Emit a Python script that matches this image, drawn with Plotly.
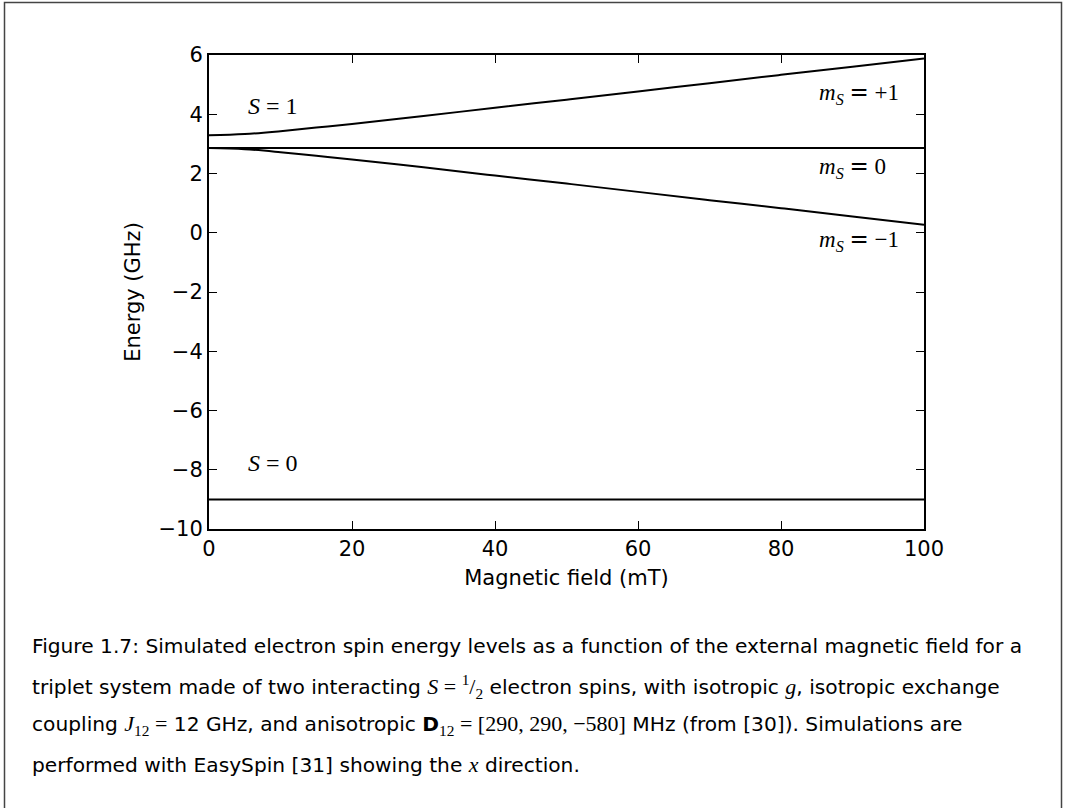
import plotly.graph_objects as go

# Data
field_mT = [0, 5, 10, 15, 20, 30, 40, 50, 60, 70, 80, 90, 100]
e_plus1 = [3.29, 3.33, 3.43, 3.55, 3.67, 3.94, 4.22, 4.49, 4.77, 5.05, 5.33, 5.60, 5.88]
e_zero = [2.86, 2.86, 2.86, 2.86, 2.86, 2.86, 2.86, 2.86, 2.86, 2.86, 2.86, 2.86, 2.86]
e_minus1 = [2.86, 2.82, 2.72, 2.60, 2.47, 2.21, 1.93, 1.66, 1.38, 1.10, 0.83, 0.55, 0.27]
e_singlet = [-9.0, -9.0, -9.0, -9.0, -9.0, -9.0, -9.0, -9.0, -9.0, -9.0, -9.0, -9.0, -9.0]

x_ticks = [0, 20, 40, 60, 80, 100]
y_ticks = [-10, -8, -6, -4, -2, 0, 2, 4, 6]

W, H = 1066, 808
ML, MR, MT, MB = 209, 142, 55, 279
PW, PH = W - ML - MR, H - MT - MB

def px2paper(px, py):
    return (px - ML) / PW, (H - MB - py) / PH

SERIF = "Liberation Serif"
SANS = "DejaVu Sans"
CAP = "DejaVu Sans"

def m(t):
    return f'<span style="font-family:{SERIF}">{t}</span>'

def cm(t):
    return f'<span style="font-family:{SERIF};font-size:22px">{t}</span>'

fig = go.Figure()
for ys in [e_plus1, e_zero, e_minus1, e_singlet]:
    fig.add_trace(go.Scatter(x=field_mT, y=ys, mode="lines",
                             line=dict(color="black", width=2, shape="spline"),
                             showlegend=False, hoverinfo="skip"))

ann = []
# level labels
ann.append(dict(x=5.2, y=4.27, xref="x", yref="y", xanchor="left", yanchor="middle",
                text=m("<i>S</i> = 1"), showarrow=False,
                font=dict(family=SERIF, size=24, color="black")))
ann.append(dict(x=5.2, y=-7.76, xref="x", yref="y", xanchor="left", yanchor="middle",
                text=m("<i>S</i> = 0"), showarrow=False,
                font=dict(family=SERIF, size=24, color="black")))
for yv, val in [(4.71, "+1"), (2.21, "0"), (-0.25, "−1")]:
    ann.append(dict(x=85, y=yv, xref="x", yref="y", xanchor="left", yanchor="middle",
                    text=m("<i>m</i><sub><i>S</i></sub>") + ' <span style="font-family:DejaVu Sans">=</span> ' + m(val),
                    showarrow=False, font=dict(family=SERIF, size=23, color="black")))

cap_lines = [
    "Figure 1.7: Simulated electron spin energy levels as a function of the external magnetic field for a",
    "triplet system made of two interacting " + cm("<i>S</i> = <sup>1</sup>/<sub>2</sub>") + " electron spins, with isotropic " + cm("<i>g</i>") + ", isotropic exchange",
    "coupling " + cm("<i>J</i><sub>12</sub> =") + " 12 GHz, and anisotropic <b>D</b>" + cm("<sub>12</sub> = [290, 290, −580]") + " MHz (from [30]). Simulations are",
    "performed with EasySpin [31] showing the " + cm("<i>x</i>") + " direction.",
]
cap_y = [646, 686, 725, 764]
for t, py in zip(cap_lines, cap_y):
    xp, yp = px2paper(30, py)
    ann.append(dict(x=xp, y=yp, xref="paper", yref="paper", xanchor="left", yanchor="middle",
                    text=t, showarrow=False, font=dict(family=CAP, size=20.2, color="black")))

# outer frame
x0, y0 = px2paper(4.5, 2.5)
x1, y1 = px2paper(1061.5, 815)
shapes = [dict(type="rect", xref="paper", yref="paper", x0=x0, y0=y1, x1=x1, y1=y0,
               line=dict(color="#444444", width=1.5), layer="below")]

axis_common = dict(showline=True, linecolor="black", linewidth=2, mirror="ticks",
                   ticks="inside", ticklen=8, tickwidth=1, tickcolor="black",
                   showgrid=False, zeroline=False,
                   tickfont=dict(family=SANS, size=21, color="black"))

fig.update_layout(
    width=W, height=H, autosize=False,
    margin=dict(l=ML, r=MR, t=MT, b=MB),
    paper_bgcolor="white", plot_bgcolor="white",
    xaxis=dict(range=[0, 100], tickvals=x_ticks, ticktext=[str(v) for v in x_ticks],
               title=dict(text="Magnetic field (mT)", font=dict(family=SANS, size=21, color="black"), standoff=10),
               **axis_common),
    yaxis=dict(range=[-10, 6], tickvals=y_ticks,
               ticktext=[("−" + str(-v)) if v < 0 else str(v) for v in y_ticks],
               title=dict(text="Energy (GHz)", font=dict(family=SANS, size=21, color="black"), standoff=12),
               **axis_common),
    annotations=ann, shapes=shapes,
)

fig.write_html("out.html")
